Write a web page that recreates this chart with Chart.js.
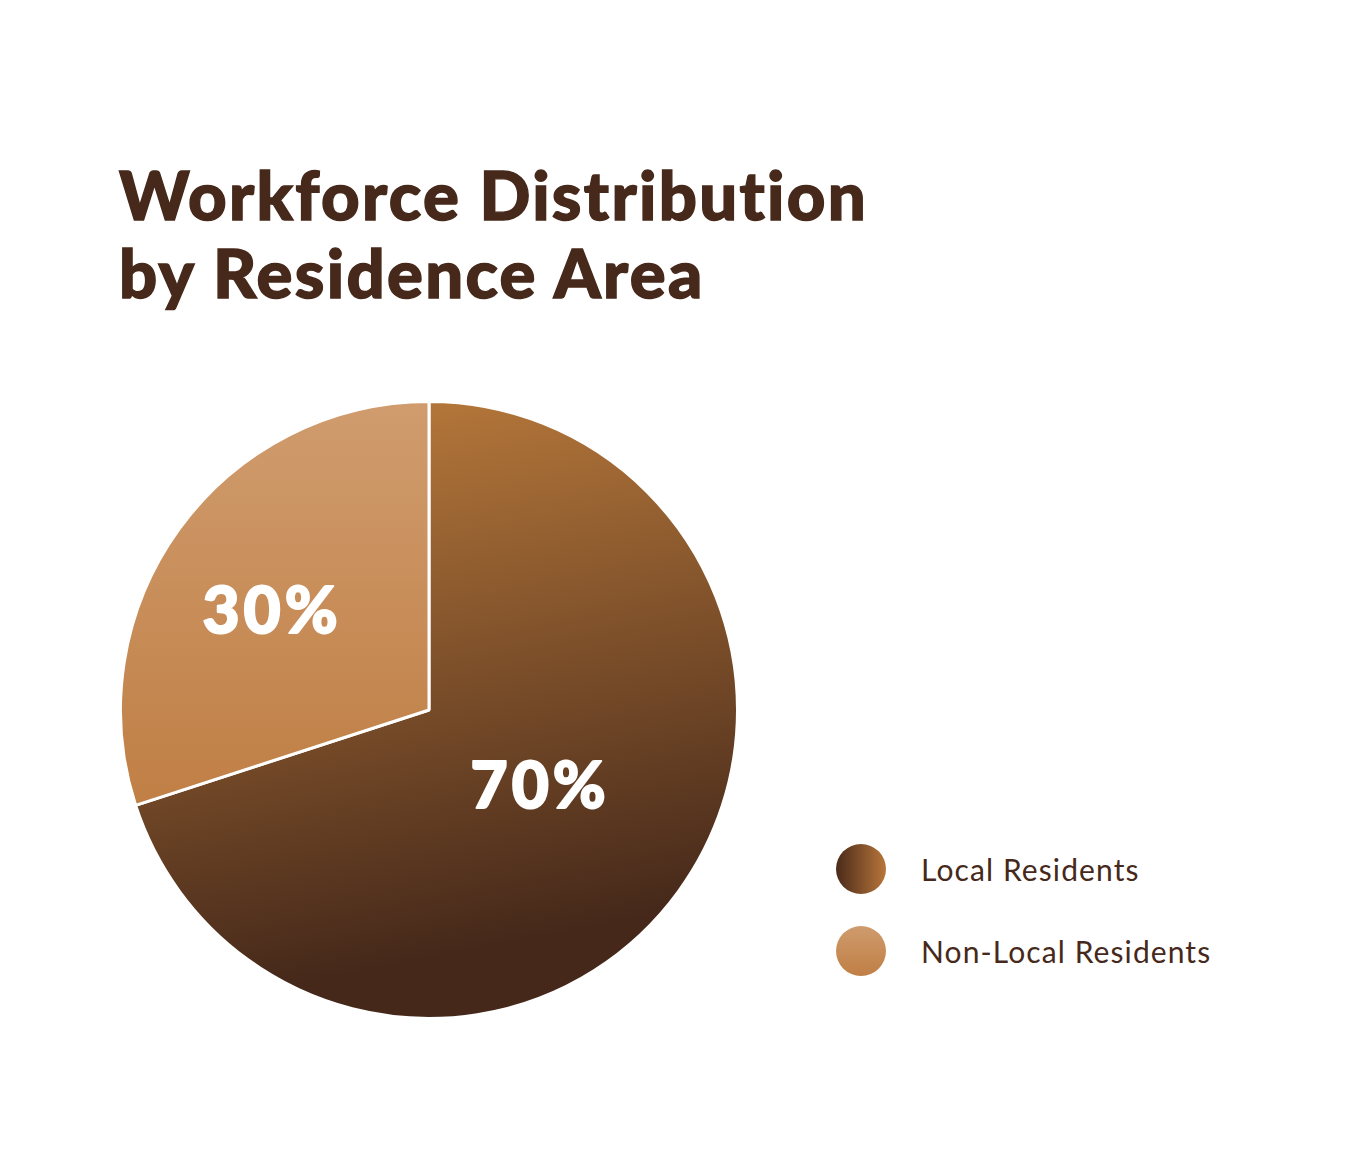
<!DOCTYPE html>
<html>
<head>
<meta charset="utf-8">
<script src="https://cdn.jsdelivr.net/npm/chart.js@4.4.1/dist/chart.umd.min.js"></script>
<style>
  html, body { margin: 0; padding: 0; background: #fff; }
  body { width: 1366px; height: 1160px; position: relative; overflow: hidden; font-family: Lato, sans-serif; }
  #title {
    position: absolute; left: 119px; top: 155px;
    font-size: 67px; line-height: 78px; font-weight: 900; color: #46291b;
    margin: 0; letter-spacing: 2.3px; font-variant-ligatures: none;
    -webkit-text-stroke: 1.4px #46291b;
  }
  #pieWrap { position: absolute; left: 119px; top: 400px; width: 620px; height: 620px; }
  #legend { position: absolute; left: 836px; top: 844px; }
  .item { display: flex; align-items: center; height: 50px; margin-bottom: 32px; }
  .dot { width: 50px; height: 50px; border-radius: 50%; margin-right: 35px; }
  .item span { font-size: 30px; letter-spacing: 1.1px; color: #46291b; }
</style>
</head>
<body>
<h1 id="title">Workforce Distribution<br>by Residence Area</h1>
<div id="pieWrap"><canvas id="residencePie"></canvas></div>
<div id="legend"></div>
<script>
const areaLabels = ['Local Residents', 'Non-Local Residents'];
const areaShares = [70, 30];
// gradient stops per slice: [start, end]
const sliceStops = [['#b5773a', '#45281a'], ['#d09c6e', '#c07f45']];
const legendStops = [
  'linear-gradient(90deg, #4a2a1a 0%, #b8763a 100%)',
  'linear-gradient(180deg, #cf9b6d 0%, #c07f45 100%)'
];
// where each label sits: fraction of radius, and a small turn in degrees
const labelRadius = [0.44, 0.6];
const labelTurn = [-1, -4];

function sliceFill(context) {
  const chart = context.chart;
  const area = chart.chartArea;
  if (!area) return sliceStops[context.dataIndex][1];
  const ctx = chart.ctx;
  const w = area.right - area.left, h = area.bottom - area.top;
  let g;
  if (context.dataIndex === 0) {
    g = ctx.createLinearGradient(area.left + w * 0.45, area.top, area.left + w * 0.62, area.top + h * 0.88);
  } else {
    g = ctx.createLinearGradient(0, area.top, 0, area.top + h * 0.65);
  }
  g.addColorStop(0, sliceStops[context.dataIndex][0]);
  g.addColorStop(1, sliceStops[context.dataIndex][1]);
  return g;
}

const percentLabels = {
  id: 'percentLabels',
  afterDatasetsDraw(chart) {
    const ctx = chart.ctx;
    const meta = chart.getDatasetMeta(0);
    ctx.save();
    ctx.fillStyle = '#ffffff';
    ctx.strokeStyle = '#ffffff';
    ctx.lineWidth = 2;
    ctx.lineJoin = 'round';
    ctx.font = '900 64px Lato';
    ctx.letterSpacing = '4px';
    ctx.textAlign = 'center';
    ctx.textBaseline = 'middle';
    meta.data.forEach((arc, i) => {
      const p = arc.getProps(['x', 'y', 'startAngle', 'endAngle', 'outerRadius']);
      const mid = (p.startAngle + p.endAngle) / 2 + labelTurn[i] * Math.PI / 180;
      const r = p.outerRadius * labelRadius[i];
      const tx = p.x + Math.cos(mid) * r, ty = p.y + Math.sin(mid) * r;
      ctx.strokeText(areaShares[i] + '%', tx, ty);
      ctx.fillText(areaShares[i] + '%', tx, ty);
    });
    ctx.restore();
  }
};

const pieCtx = document.getElementById('residencePie').getContext('2d');
const residencePie = new Chart(pieCtx, {
  type: 'pie',
  data: {
    labels: areaLabels,
    datasets: [{
      data: areaShares,
      backgroundColor: sliceFill,
      borderColor: '#ffffff',
      borderWidth: 3
    }]
  },
  options: {
    responsive: true,
    maintainAspectRatio: false,
    animation: false,
    plugins: {
      legend: { display: false },
      tooltip: { enabled: false }
    }
  },
  plugins: [percentLabels]
});

const legendBox = document.getElementById('legend');
areaLabels.forEach((label, i) => {
  const row = document.createElement('div');
  row.className = 'item';
  row.innerHTML = '<div class="dot" style="background:' + legendStops[i] + '"></div><span>' + label + '</span>';
  legendBox.appendChild(row);
});
</script>
</body>
</html>
